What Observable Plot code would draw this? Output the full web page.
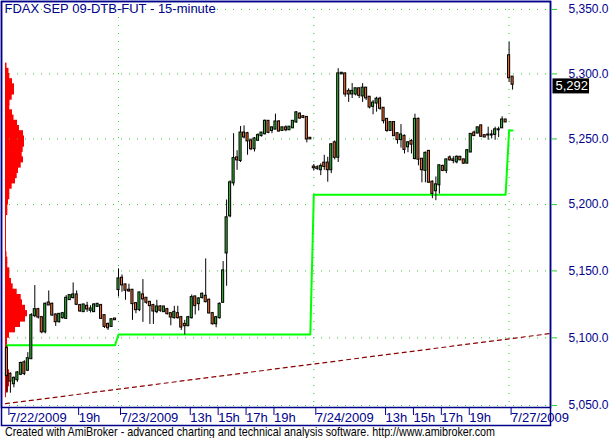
<!DOCTYPE html>
<html><head><meta charset="utf-8">
<script src="https://cdn.jsdelivr.net/npm/d3@7"></script>
<script src="https://cdn.jsdelivr.net/npm/@observablehq/plot@0.6"></script>
<style>
body{margin:0;background:#fff;}
#wrap{position:relative;width:611px;height:438px;overflow:hidden;font-family:"Liberation Sans",Arial,sans-serif;background:#fff;}
#wrap svg{position:absolute;left:0;top:0;}
#footer{position:absolute;left:5px;top:425px;font-size:13px;line-height:13px;color:#000;white-space:nowrap;transform:scaleX(0.825);transform-origin:0 0;}
</style></head><body>
<div id="wrap"><div id="footer">Created with AmiBroker - advanced charting and technical analysis software. http://www.amibroker.com</div></div>
<script>
const title = "FDAX SEP 09-DTB-FUT - 15-minute";
const dayLabels = ["7/22/2009", "7/23/2009", "7/24/2009", "7/27/2009"];
const dayFirstHour = [14, 8, 8, 8];
const dayBars = [32, 56, 56, 2];
const hourTicks = [[19], [13, 15, 17, 19], [13, 15, 17, 19], []];
const dayLevel = [5094.5, 5102.5, 5207.5, 5256.5];
const yTicks = [5050, 5100, 5150, 5200, 5250, 5300, 5350];
const trendBar = [-0.4, 155.8];
const trendPrice = [5051.3, 5103.2];

const open = [
5092,5073,5066,5069,5073,5081.5,5076,5084.5,5116.5,5121,
5115,5104.5,5126,5125,5117,5112,5115,5114.5,5128.5,5130,
5132,5124,5119.5,5123.5,5120.5,5119.5,5123.5,5124,5116.5,5110,
5108.5,5114,
5136,5144.5,5139.5,5135.5,5135.5,5125.5,5121,5132,5129.5,5126.5,
5124,5119.5,5123,5119.5,5121,5118,5115,5118,5115,5110,
5109,5115,5130.5,5125.5,5130,5131,5128,5118,5110.5,5115,
5126.5,5163.5,5191.5,5216.5,5235.5,5233.5,5254.5,5254,5248.5,5242.5,
5249,5252.5,5254,5263.5,5256.5,5257.5,5263,5256.5,5258.5,5257,
5258.5,5263,5269,5267,5266.5,5250.5,
5228.5,5228,5226.5,5231.5,5231.5,5226.5,5247,5236,5300,5300,
5286.5,5284.5,5284.5,5288.5,5283,5289,5282,5275,5277.5,5280.5,
5273.5,5265,5256.5,5262.5,5254,5249.5,5252,5244,5248,5235,
5265,5234.5,5226,5240.5,5217,5210.5,5215,5229,5226,5235.5,
5234,5232.5,5236,5234,5231.5,5240,5254.5,5254.5,5260,5252.5,
5253,5253,5253.5,5257,5258.5,5264.5,
5314,5297.5];
const high = [
5094,5074,5071,5075,5082,5083,5089,5118,5139,5122,
5116,5126,5135,5126,5118,5118,5119,5131.5,5132,5141,
5135,5125,5125,5126.5,5124,5125.5,5125.5,5125,5117,5111,
5114,5114.5,
5151.5,5147,5140,5140,5136,5126,5134,5143.5,5130,5127,
5125,5128,5124,5123.5,5122,5118.5,5123.5,5123.5,5116,5113,
5116,5132,5131,5130,5133.5,5159,5129,5119,5116,5126,
5157,5203.5,5218,5254,5241,5259.5,5260,5255,5250,5251,
5254,5255,5264.5,5264,5259,5269,5264,5259,5260,5259.5,
5264,5271,5270,5268,5267,5251,
5230.5,5229.5,5231,5237.5,5236,5246.5,5248.5,5304,5301,5300.5,
5288.5,5292.5,5289,5289,5292.5,5289.5,5282.5,5279.5,5282,5282,
5274,5265.5,5263,5263,5254.5,5261,5253,5248,5249.5,5269,
5266,5235,5240,5241,5218,5221,5230,5230,5234.5,5237,
5236.5,5237,5236.5,5234.5,5242,5254,5256,5259,5260.5,5253,
5259,5256.5,5259,5259,5267,5265,
5324.5,5297.5];
const low = [
5059,5059,5063,5067,5072,5072,5075,5084,5115,5114,
5103,5103,5124,5116,5108.5,5111,5114,5114,5128,5129,
5124,5119,5119,5119,5118.5,5119,5123,5114,5107,5105.5,
5108,5113,
5130.5,5134,5128,5134,5113,5118,5119.5,5111.5,5125,5110,
5110,5118,5119,5119,5117,5109,5114,5114,5105.5,5102,
5108.5,5114,5117,5120,5129,5126,5118,5109.5,5107.5,5114,
5126,5138.5,5190,5214,5226,5232,5250,5237.5,5241,5240,
5248,5251.5,5253,5254,5254,5257,5255.5,5256,5255.5,5256.5,
5258,5262,5265,5265.5,5247,5249.5,
5225.5,5226,5222,5226,5217,5223.5,5234,5232,5299.5,5282,
5278,5281,5283,5281,5278,5279.5,5273,5268.5,5270.5,5272,
5261.5,5255,5256,5252,5246,5243,5238.5,5239.5,5238.5,5234,
5229.5,5216.5,5216.5,5216,5204.5,5203,5208,5225,5223.5,5233,
5231,5231,5233.5,5230.5,5231,5239.5,5252,5254,5251.5,5251,
5249,5250,5249,5251,5258,5262.5,
5293.5,5287.5];
const close = [
5072,5068,5070,5074,5081,5073.5,5084.5,5116.5,5121,5115.5,
5104.5,5125,5124.5,5117,5112,5117.5,5118,5129.5,5131.5,5132,
5125,5120,5124.5,5121.5,5121.5,5124.5,5125,5114.5,5108.5,5107.5,
5113.5,5113.5,
5144,5139.5,5135.5,5135,5125.5,5121,5133.5,5129,5126.5,5124,
5120,5123,5120.5,5123,5118,5115.5,5119,5115,5108,5109,
5115,5130,5124,5129,5132.5,5127,5118.5,5110.5,5115,5125,
5150,5190,5216.5,5235,5234,5254.5,5251.5,5248.5,5242.5,5250,
5252.5,5254.5,5263.5,5255,5258.5,5263,5256,5258.5,5257,5259,
5263.5,5270,5266,5266.5,5250,5250,
5228,5227.5,5229,5229,5226.5,5245.5,5236,5300,5300.5,5284.5,
5284.5,5286.5,5288.5,5283.5,5289,5281.5,5274.5,5277.5,5280.5,5273.5,
5264,5256.5,5262.5,5252.5,5249.5,5253,5242,5247,5246,5265,
5234.5,5226.5,5239,5217,5208.5,5215,5229.5,5226,5234,5234,
5233.5,5236,5234,5231.5,5241,5253.5,5252.5,5258.5,5252,5251.5,
5253,5253,5257,5257,5264.5,5263,
5297,5292];

// volume-at-price profile (bin bottom price, relative volume), 4-point bins
const profilePrice = [5304,5300,5296,5292,5288,5284,5280,5276,5272,5268,5264,5260,5256,5252,5248,5244,5240,5236,5232,5228,5224,5220,5216,5212,5208,5204,5200,5196,5192,5188,5184,5180,5176,5172,5168,5164,5160,5156,5152,5148,5144,5140,5136,5132,5128,5124,5120,5116,5112,5108,5104,5100,5096,5092,5088,5084,5080,5076,5072,5068,5064,5060,5056];
const profileVolume = [1.5,3.5,4.3,7,9,9,6.7,4.5,4.3,7,8.5,12,14,18,19,19,17.7,16.7,18,15.7,13,11.7,10,6.7,4.3,4.3,3,2.3,2.3,1,1,1,1,1,1,1,1.5,2.3,2.3,4.3,4.3,6,7.7,11.7,15.7,17,20,22,20,15,10,4,2,2,2,2,2,2,4,4.5,4,3,1];

const navy = "#00008b", gridGreen = "#2ecc2e", upFill = "#33b533", downFill = "#f26a2a";

const candles = open.map((o, i) => ({i, o, h: high[i], l: low[i], c: close[i]}));
const dayStart = [];
{ let s = 0; for (const n of dayBars) { dayStart.push(s); s += n; } }
const dayOf = i => { let d = 0; for (let k = 0; k < dayStart.length; k++) if (dayStart[k] <= i) d = k; return d; };
const levelSeries = candles.map(d => ({i: d.i, v: dayLevel[dayOf(d.i)]}));
const trend = trendBar.map((b, k) => ({b, p: trendPrice[k]}));
const profile = profilePrice.map((p, k) => ({lo: p, hi: p + 4, v: profileVolume[k]}));

const xTicks = [], xLabels = new Map();
dayLabels.forEach((lab, d) => {
  xTicks.push(dayStart[d]); xLabels.set(dayStart[d], lab);
  hourTicks[d].forEach(h => { const b = dayStart[d] + (h - dayFirstHour[d]) * 4; xTicks.push(b); xLabels.set(b, h + "h"); });
});

const W = 611, H = 427;
const common = {width: W, height: H, marginLeft: 1, marginRight: 61, marginTop: 1, marginBottom: 20};
const yScale = {type: "log", domain: [5048.5, 5356.2]};
const font = "'Liberation Sans', Arial, sans-serif";

const profilePlot = Plot.plot({
  ...common,
  style: {background: "white", fontFamily: font},
  x: {domain: [0, 100], range: [5, 105], axis: null},
  y: {...yScale, axis: null},
  marks: [
    Plot.rect(profile, {x1: 0, x2: "v", y1: "lo", y2: "hi", fill: "#ff0000", insetTop: -0.4, insetBottom: -0.4})
  ]
});

const lastClose = close[close.length - 1];
const lastText = d3.format(",")(lastClose);
const mainPlot = Plot.plot({
  ...common,
  style: {background: "none", fontFamily: font, overflow: "visible"},
  x: {domain: [-1.55, 155.87], axis: null},
  y: {...yScale, axis: null},
  marks: [
    Plot.gridY(yTicks, {stroke: gridGreen, strokeOpacity: 1, strokeDasharray: "1,7"}),
    Plot.gridX(dayStart.slice(1), {stroke: gridGreen, strokeOpacity: 1, strokeDasharray: "1,7"}),
    Plot.line(levelSeries, {x: "i", y: "v", stroke: "#00ff00", strokeWidth: 2}),
    Plot.line(trend, {x: "b", y: "p", stroke: "#8b0000", strokeWidth: 1.2, strokeDasharray: "4,4", clip: true}),
    Plot.ruleX(candles, {x: "i", y1: "l", y2: "h", stroke: "black", strokeWidth: 1}),
    Plot.rect(candles, {x1: d => d.i - 0.3, x2: d => d.i + 0.3, y1: "o", y2: "c",
      fill: d => d.c >= d.o ? upFill : downFill, stroke: "black", strokeWidth: 1,
      insetTop: -0.5, insetBottom: -0.5}),
    Plot.frame({stroke: navy, strokeWidth: 1.5}),
    Plot.frame({stroke: navy, strokeWidth: 1.5, insetBottom: -18}),
    Plot.axisX(xTicks, {tickFormat: d => xLabels.get(d), tickSize: 8, tickPadding: -3,
      textAnchor: "start", dx: 2, fill: navy, stroke: navy, fontSize: 13, label: null}),
    Plot.axisY(yTicks, {anchor: "right", tickFormat: d3.format(",.1f"), tickSize: 6, tickPadding: 12,
      stroke: gridGreen, fill: navy, fontSize: 12, label: null}),
    Plot.text([title], {frameAnchor: "top-left", dx: 3, dy: 2, textAnchor: "start", lineAnchor: "top",
      fill: navy, fontSize: 13}),
    Plot.text([lastClose], {y: d => d, frameAnchor: "right", dx: 5, dy: 2, textAnchor: "start",
      text: () => lastText, fill: "white", fontSize: 13})
  ]
});

const wrap = document.getElementById("wrap");
wrap.insertBefore(mainPlot, wrap.firstChild);
wrap.insertBefore(profilePlot, wrap.firstChild);

// black box behind the last-price label
for (const t of mainPlot.querySelectorAll("text")) {
  if (t.textContent === lastText) {
    const bb = t.getBBox();
    const r = document.createElementNS("http://www.w3.org/2000/svg", "rect");
    r.setAttribute("x", bb.x - 3); r.setAttribute("y", bb.y);
    r.setAttribute("width", bb.width + 4); r.setAttribute("height", bb.height);
    r.setAttribute("fill", "black");
    const tr = t.getAttribute("transform");
    if (tr) r.setAttribute("transform", tr);
    t.parentNode.insertBefore(r, t);
  }
}
</script>
</body></html>
